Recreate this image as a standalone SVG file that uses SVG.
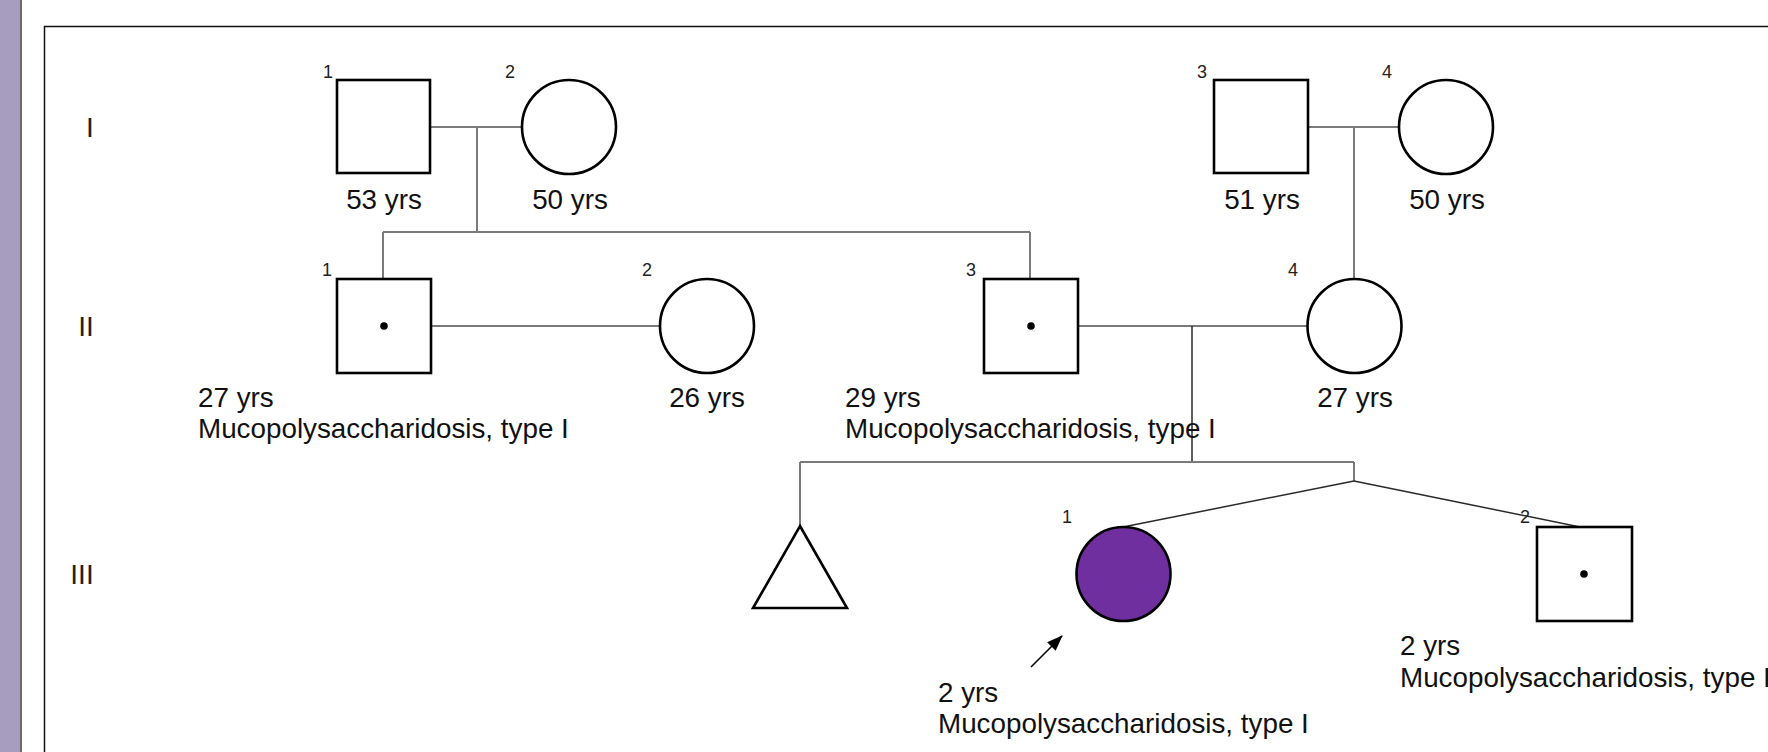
<svg xmlns="http://www.w3.org/2000/svg" width="1768" height="752" viewBox="0 0 1768 752">
  <style>
    .node { fill: #ffffff; stroke: #000000; stroke-width: 2.6; }
    .affected { fill: #6f2f9e; }
    .carrier { fill: #000000; stroke: none; }
    .line { fill: none; stroke: #7a7a7a; stroke-width: 2; }
    .dark { fill: none; stroke: #2a2a2a; stroke-width: 1.5; }
    .num { font-family: "Liberation Sans", Arial, sans-serif; font-size: 18px; fill: #222222; text-anchor: middle; }
    .lbl { font-family: "Liberation Sans", Arial, sans-serif; font-size: 27.8px; fill: #111111; }
    .mid { text-anchor: middle; }
    .gen { font-family: "Liberation Sans", Arial, sans-serif; font-size: 28px; fill: #222222; text-anchor: middle; }
  </style>
  <defs>
    <marker id="proband-head" markerWidth="16" markerHeight="12" refX="15" refY="6" orient="auto" markerUnits="userSpaceOnUse">
      <path d="M0,0 L16,6 L0,12 Z" fill="#000000"/>
    </marker>
  </defs>

  <!-- page background, side bar and frame -->
  <rect x="0" y="0" width="1768" height="752" fill="#ffffff"/>
  <rect x="0" y="0" width="20" height="752" fill="#a79dbf"/>
  <line x1="21" y1="0" x2="21" y2="752" stroke="#3a3a3a" stroke-width="1.5"/>
  <path d="M44.5,760 L44.5,26.5 L1780,26.5" fill="none" stroke="#111111" stroke-width="1.5"/>

  <!-- generation labels -->
  <text class="gen" x="90" y="137">I</text>
  <text class="gen" x="86" y="336">II</text>
  <text class="gen" x="82" y="584">III</text>

  <!-- connectors -->
  <g id="connectors">
    <!-- I-1 x I-2 -->
    <line class="line" x1="430" y1="127" x2="522" y2="127"/>
    <line class="line" x1="477" y1="127" x2="477" y2="232"/>
    <line class="line" x1="383" y1="232" x2="1030" y2="232"/>
    <line class="line" x1="383" y1="232" x2="383" y2="279"/>
    <line class="line" x1="1030" y1="232" x2="1030" y2="279"/>
    <!-- I-3 x I-4 -->
    <line class="line" x1="1308" y1="127" x2="1399" y2="127"/>
    <line class="line" x1="1354" y1="127" x2="1354" y2="279"/>
    <!-- II-1 x II-2 -->
    <line class="line" x1="431" y1="326" x2="660" y2="326"/>
    <!-- II-3 x II-4 -->
    <line class="line" x1="1078" y1="326" x2="1307" y2="326"/>
    <line class="dark" x1="1192" y1="326" x2="1192" y2="462"/>
    <line class="line" x1="800" y1="462" x2="1354" y2="462"/>
    <line class="line" x1="800" y1="462" x2="800" y2="526"/>
    <line class="line" x1="1354" y1="462" x2="1354" y2="481"/>
    <!-- twins -->
    <line class="dark" x1="1354" y1="481" x2="1123" y2="527"/>
    <line class="dark" x1="1354" y1="481" x2="1580" y2="527"/>
    <!-- proband arrow -->
    <line x1="1031" y1="667" x2="1062" y2="636" stroke="#000000" stroke-width="1.6" marker-end="url(#proband-head)"/>
  </g>

  <!-- Generation I -->
  <g id="I-1">
    <rect class="node" x="337" y="80" width="93" height="93"/>
    <text class="num" x="328" y="78">1</text>
    <text class="lbl mid" x="384" y="209">53 yrs</text>
  </g>
  <g id="I-2">
    <circle class="node" cx="569" cy="127" r="47"/>
    <text class="num" x="510" y="78">2</text>
    <text class="lbl mid" x="570" y="209">50 yrs</text>
  </g>
  <g id="I-3">
    <rect class="node" x="1214" y="80" width="94" height="93"/>
    <text class="num" x="1202" y="78">3</text>
    <text class="lbl mid" x="1262" y="209">51 yrs</text>
  </g>
  <g id="I-4">
    <circle class="node" cx="1446" cy="127" r="47"/>
    <text class="num" x="1387" y="78">4</text>
    <text class="lbl mid" x="1447" y="209">50 yrs</text>
  </g>

  <!-- Generation II -->
  <g id="II-1">
    <rect class="node" x="337" y="279" width="94" height="94"/>
    <circle class="carrier" cx="384" cy="326" r="3.8"/>
    <text class="num" x="327" y="276">1</text>
    <text class="lbl" x="198" y="407">27 yrs</text>
    <text class="lbl" x="198" y="438">Mucopolysaccharidosis, type I</text>
  </g>
  <g id="II-2">
    <circle class="node" cx="707" cy="326" r="47"/>
    <text class="num" x="647" y="276">2</text>
    <text class="lbl mid" x="707" y="407">26 yrs</text>
  </g>
  <g id="II-3">
    <rect class="node" x="984" y="279" width="94" height="94"/>
    <circle class="carrier" cx="1031" cy="326" r="3.8"/>
    <text class="num" x="971" y="276">3</text>
    <text class="lbl" x="845" y="407">29 yrs</text>
    <text class="lbl" x="845" y="438">Mucopolysaccharidosis, type I</text>
  </g>
  <g id="II-4">
    <circle class="node" cx="1354.5" cy="326" r="47"/>
    <text class="num" x="1293" y="276">4</text>
    <text class="lbl mid" x="1355" y="407">27 yrs</text>
  </g>

  <!-- Generation III -->
  <g id="III-pregnancy">
    <polygon class="node" points="800,526 847,608 753,608"/>
  </g>
  <g id="III-1">
    <circle class="node affected" cx="1123.5" cy="574" r="47"/>
    <text class="num" x="1067" y="523">1</text>
    <text class="lbl" x="938" y="702">2 yrs</text>
    <text class="lbl" x="938" y="733">Mucopolysaccharidosis, type I</text>
  </g>
  <g id="III-2">
    <rect class="node" x="1537" y="527" width="95" height="94"/>
    <circle class="carrier" cx="1584" cy="574" r="3.8"/>
    <text class="num" x="1525" y="523">2</text>
    <text class="lbl" x="1400" y="655">2 yrs</text>
    <text class="lbl" x="1400" y="687">Mucopolysaccharidosis, type I</text>
  </g>
</svg>
